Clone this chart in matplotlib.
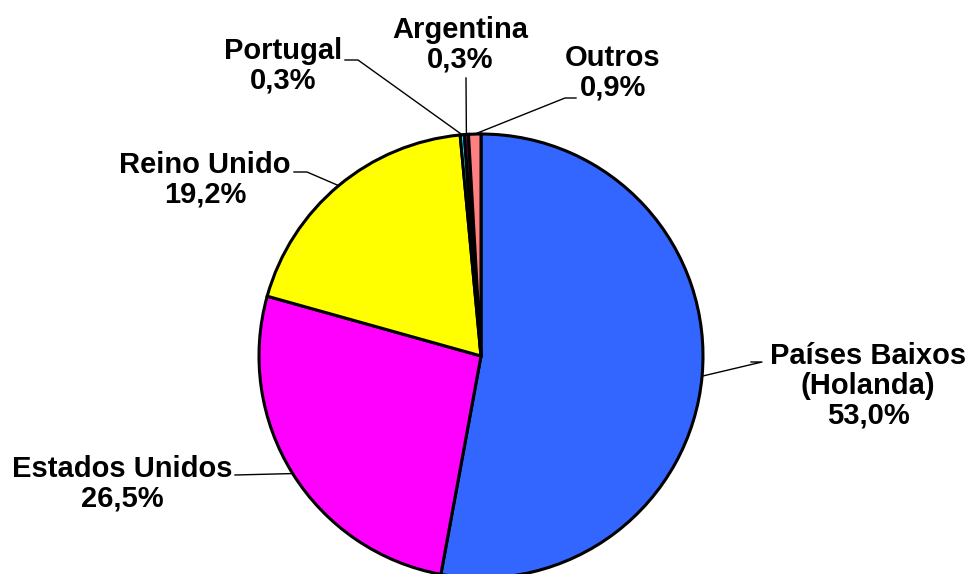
"""Pie chart: export share by destination country."""

import numpy as np
import matplotlib.pyplot as plt

plt.rcParams["font.family"] = ["Liberation Sans", "DejaVu Sans"]

W, H = 969, 574

countries = ["Países Baixos\n(Holanda)", "Estados Unidos", "Reino Unido",
             "Portugal", "Argentina", "Outros"]
shares = [53.0, 26.5, 19.2, 0.3, 0.3, 0.9]
colors = ["#3366FF", "#FF00FF", "#FFFF00", "#00FFFF", "#660066", "#FF8080"]

# label layout (pixel coords, y from top) and leader elbow side
label_pos = [(868, 386), (122, 484), (205, 180), (283, 66), (460, 45), (613, 73)]
elbow = [(762, 362), (235, 475), (307, 172), (358, 60), (466, 78), (565, 98)]
stub = [(751, 362), None, (294, 172), (345, 60), None, (576, 98)]

CX, CY, R = 481, 356, 222


def main():
    fig = plt.figure(figsize=(W / 100, H / 100), dpi=100)
    ax = fig.add_axes([0, 0, 1, 1])
    ax.set_xlim(0, W)
    ax.set_ylim(0, H)
    ax.set_aspect("equal")
    ax.axis("off")

    wedges, _ = ax.pie(
        shares,
        colors=colors,
        startangle=90,
        counterclock=False,
        center=(CX, H - CY),
        radius=R,
        wedgeprops=dict(edgecolor="black", linewidth=2.2),
    )
    ax.set_xlim(0, W)
    ax.set_ylim(0, H)

    for i, w in enumerate(wedges):
        mid = np.deg2rad((w.theta1 + w.theta2) / 2)
        px = CX + R * np.cos(mid)
        py = (H - CY) + R * np.sin(mid)
        ex, ey = elbow[i]
        xs, ys = [], []
        if stub[i] is not None:
            xs.append(stub[i][0])
            ys.append(H - stub[i][1])
        xs += [ex, px]
        ys += [H - ey, py]
        ax.plot(xs, ys, color="black", linewidth=1, zorder=1)

        lx, ly = label_pos[i]
        ax.text(lx, H - ly, f"{countries[i]}\n{shares[i]:.1f}%".replace(".", ","),
                ha="center", va="center", multialignment="center",
                fontsize=21, fontweight="bold", color="black", linespacing=1.08)

    fig.savefig("out.png", dpi=100)


if __name__ == "__main__":
    main()
